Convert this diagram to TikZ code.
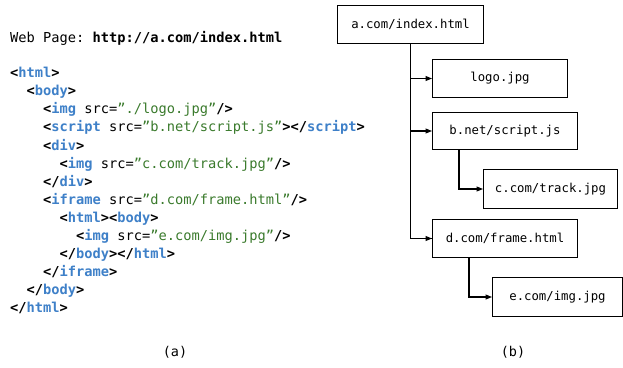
\documentclass[tikz,border=0pt]{standalone}
\usepackage{fontspec}
\setmonofont{DejaVu Sans Mono}
\usetikzlibrary{arrows.meta}
\definecolor{tagblue}{RGB}{62,128,200}
\definecolor{strgreen}{RGB}{58,122,44}
\newcommand\tagname[1]{\textcolor{tagblue}{\textbf{#1}}}
\newcommand\strval[1]{\textcolor{strgreen}{#1}}
\newcommand\myopen{\textbf{<}}
\newcommand\myshut{\textbf{>}}
\newcommand\myclosing{\textbf{</}}
\newcommand\myselfclose{\textbf{/>}}
\begin{document}
\begin{tikzpicture}[x=1pt,y=-1pt,
  codeline/.style={anchor=mid west,inner sep=0pt,font=\ttfamily\fontsize{13.7}{16}\selectfont},
  treebox/.style={draw,line width=1pt,anchor=north west,inner sep=0pt,font=\ttfamily\fontsize{12.3}{14}\selectfont},
  arr/.style={line width=1.05pt,-{Triangle[length=6.5pt,width=5pt]}},
  conn/.style={line width=1.05pt},
  caption/.style={font=\ttfamily\fontsize{13.5}{15}\selectfont,inner sep=0pt}]
\useasboundingbox (0,0) rectangle (623,367);
% code listing
\node[codeline] (t0) at (10,40) {Web Page: \textbf{http://a.com/index.html}};
\node[codeline] (l0) at (10,75.5) {\myopen\tagname{html}\myshut};
\node[codeline] (l1) at (26.5,93.6) {\myopen\tagname{body}\myshut};
\node[codeline] (l2) at (43,111.7) {\myopen\tagname{img} src=\strval{”./logo.jpg”}\myselfclose};
\node[codeline] (l3) at (43,129.8) {\myopen\tagname{script} src=\strval{”b.net/script.js”}\myshut\myclosing\tagname{script}\myshut};
\node[codeline] (l4) at (43,147.9) {\myopen\tagname{div}\myshut};
\node[codeline] (l5) at (59.5,166) {\myopen\tagname{img} src=\strval{”c.com/track.jpg”}\myselfclose};
\node[codeline] (l6) at (43,184.1) {\myclosing\tagname{div}\myshut};
\node[codeline] (l7) at (43,202.2) {\myopen\tagname{iframe} src=\strval{”d.com/frame.html”}\myselfclose};
\node[codeline] (l8) at (59.5,220.3) {\myopen\tagname{html}\myshut\myopen\tagname{body}\myshut};
\node[codeline] (l9) at (76,238.4) {\myopen\tagname{img} src=\strval{”e.com/img.jpg”}\myselfclose};
\node[codeline] (l10) at (59.5,256.5) {\myclosing\tagname{body}\myshut\myclosing\tagname{html}\myshut};
\node[codeline] (l11) at (43,274.6) {\myclosing\tagname{iframe}\myshut};
\node[codeline] (l12) at (26.5,292.7) {\myclosing\tagname{body}\myshut};
\node[codeline] (l13) at (10,310.8) {\myclosing\tagname{html}\myshut};
% tree
\node[treebox,minimum width=146pt,minimum height=38pt] (root) at (337,5) {a.com/index.html};
\node[treebox,minimum width=135pt,minimum height=38pt] (logo) at (432,59) {logo.jpg};
\node[treebox,minimum width=145pt,minimum height=37pt] (script) at (432,112) {b.net/script.js};
\node[treebox,minimum width=134pt,minimum height=39pt] (track) at (483,169) {c.com/track.jpg};
\node[treebox,minimum width=145pt,minimum height=38pt] (frame) at (432,219) {d.com/frame.html};
\node[treebox,minimum width=130pt,minimum height=39pt] (img) at (492,277) {e.com/img.jpg};
\coordinate (sb) at (459,149);
\coordinate (fb) at (469,257);
\draw[conn] (root.south) |- (frame.west);
\draw[arr] (root.south |- frame.west) -- (frame.west);
\draw[arr] (root.south |- logo.west) -- (logo.west);
\draw[arr] (root.south |- script.west) -- (script.west);
\draw[arr] (sb) |- (track.west);
\draw[arr] (fb) |- (img.west);
% captions
\node[caption] (capa) at (175,352) {(a)};
\node[caption] (capb) at (513,352) {(b)};
\end{tikzpicture}
\end{document}
